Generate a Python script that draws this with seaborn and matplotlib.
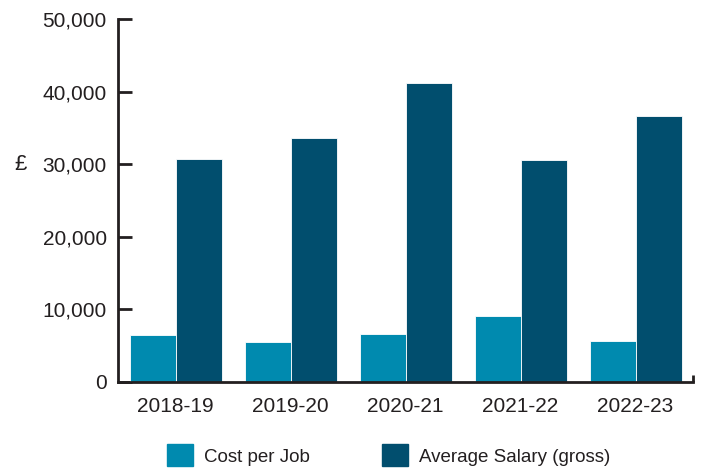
import matplotlib
matplotlib.use("Agg")
import matplotlib.pyplot as plt
import seaborn as sns
import pandas as pd
from matplotlib.ticker import FuncFormatter

# data
years = ["2018-19", "2019-20", "2020-21", "2021-22", "2022-23"]
cost_per_job = [6500, 5500, 6600, 9100, 5650]
avg_salary = [30700, 33600, 41200, 30600, 36650]
series_names = ["Cost per Job", "Average Salary (gross)"]
colours = ["#008AAF", "#014E6E"]

df = pd.DataFrame({
    "year": years * 2,
    "series": [series_names[0]] * len(years) + [series_names[1]] * len(years),
    "value": cost_per_job + avg_salary,
})

sns.set_style("white")
plt.rcParams["font.family"] = ["Liberation Sans", "DejaVu Sans"]
axis_col = "#231F20"
text_col = "#231F20"

fig = plt.figure(figsize=(7.13, 4.68), dpi=100)
ax = fig.add_axes([0.1655, 0.1838, 0.972 - 0.1655, 0.9594 - 0.1838])

sns.barplot(data=df, x="year", y="value", hue="series", order=years,
            hue_order=series_names, palette=colours, width=0.8,
            edgecolor="white", linewidth=0.6, saturation=1, ax=ax, legend=False)

ax.set_ylim(0, 50000)
ax.set_xlim(-0.5, 4.5)
ax.set_yticks(range(0, 50001, 10000))
ax.yaxis.set_major_formatter(FuncFormatter(lambda v, p: f"{int(v):,}"))

for side in ["top", "right"]:
    ax.spines[side].set_visible(False)
for side in ["left", "bottom"]:
    ax.spines[side].set_color(axis_col)
    ax.spines[side].set_linewidth(2)

ax.tick_params(axis="y", direction="in", length=10, width=2, color=axis_col,
               labelsize=15, labelcolor=text_col, pad=8, left=True)
ax.tick_params(axis="x", length=0, labelsize=15, labelcolor=text_col, pad=11)
ax.set_xticks([4.5], minor=True)
ax.tick_params(axis="x", which="minor", direction="in", length=5, width=2,
               color=axis_col, bottom=True)

ax.set_xlabel("")
ax.set_ylabel("£", rotation=0, fontsize=16, color=text_col)
ax.yaxis.set_label_coords(-0.17, 0.57)

handles = [plt.Rectangle((0, 0), 1, 1, color=c) for c in colours]
fig.legend(handles, series_names, loc="lower left",
           bbox_to_anchor=(165 / 713, 0.0), borderaxespad=0, borderpad=0.1,
           ncol=2, frameon=False, fontsize=13.5, handlelength=1.4,
           handleheight=1.4, handletextpad=0.6, columnspacing=3.8,
           labelcolor=text_col)

fig.savefig("out.png", dpi=100)
